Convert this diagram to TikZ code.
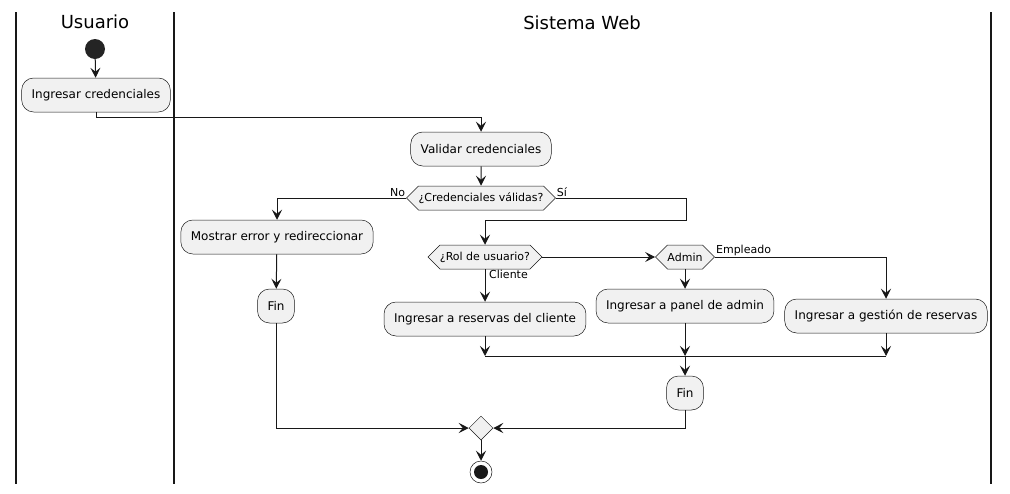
\documentclass[tikz,border=0pt]{standalone}
\usepackage{fontspec}
\setmainfont{DejaVu Sans}
\usetikzlibrary{arrows.meta,shapes.symbols,shapes.geometric}
\definecolor{actfill}{HTML}{F1F1F1}
\definecolor{linecol}{HTML}{181818}
\tikzset{
  action/.style = {draw=linecol, line width=0.5pt, fill=actfill, rounded corners=12pt,
    minimum height=34pt, inner xsep=10pt, font=\fontsize{12}{14}\selectfont},
  choice/.style = {draw=linecol, line width=0.5pt, fill=actfill, signal, signal to=east and west,
    signal pointer angle=90, minimum height=24pt, inner xsep=0pt, inner ysep=0pt, font=\fontsize{11}{13}\selectfont},
  merge/.style = {draw=linecol, line width=0.5pt, fill=actfill, diamond, minimum width=24pt, minimum height=24pt, inner sep=0pt},
  startnode/.style = {circle, fill=linecol!95!white, minimum size=20pt, inner sep=0pt},
  stopnode/.style = {circle, draw=linecol, line width=0.5pt, fill=white, minimum size=22pt, inner sep=0pt,
    path picture={\fill[linecol] (path picture bounding box.center) circle (7pt);}},
  flow/.style = {draw=linecol, line width=1pt, -{Stealth[length=10pt,width=10pt,inset=4pt]}},
  link/.style = {draw=linecol, line width=1pt},
  guard/.style = {font=\fontsize{11}{13}\selectfont, inner sep=1pt},
  lane/.style = {draw=linecol, line width=1.5pt},
  lanetitle/.style = {font=\fontsize{18}{21}\selectfont},
}
\begin{document}
\begin{tikzpicture}[x=1pt,y=-1pt]
  \useasboundingbox (0,0) rectangle (1010,493);
  % carriles
  \draw[lane] (16,12) -- (16,484);
  \draw[lane] (174,12) -- (174,484);
  \draw[lane] (991,12) -- (991,484);
  \node[lanetitle] (usuario) at (95,22) {Usuario};
  \node[lanetitle] (sistema) at (582,23) {Sistema Web};

  % nodos
  \node[startnode] (inicio) at (95,49) {};
  \node[action] (ingresar) at (96,95) {Ingresar credenciales};
  \node[action] (validar) at (481,149) {Validar credenciales};
  \node[choice] (cred) at (481,198) {¿Credenciales válidas?};
  \node[action] (mostrar) at (277,237) {Mostrar error y redireccionar};
  \node[action] (fin1) at (276,306) {Fin};
  \node[choice] (rol) at (485,257) {¿Rol de usuario?};
  \node[choice] (admin) at (685,257) {Admin};
  \node[action] (cliente) at (485,319) {Ingresar a reservas del cliente};
  \node[action] (panel) at (685,306) {Ingresar a panel de admin};
  \node[action] (gestion) at (886,316) {Ingresar a gestión de reservas};
  \node[action] (fin2) at (685,393) {Fin};
  \node[merge] (union) at (481,428) {};
  \node[stopnode] (final) at (481,472) {};
  \coordinate (sibend) at (686,220);
  \coordinate (joinL) at (485,356);
  \coordinate (joinR) at (886,356);

  % flujos
  \path[flow] (inicio) -- (ingresar);
  \path[flow] (ingresar.south) -- ++(0,5) -| (validar.north);
  \path[flow] (validar) -- (cred);
  \path[flow] (cred.west) -| (mostrar.north);
  \node[guard, anchor=south east] at (cred.west) {No};
  \path[flow] (cred.east) -| (sibend) -| (rol.north);
  \node[guard, anchor=south west] at (cred.east) {Sí};
  \path[flow] (mostrar) -- (fin1);
  \path[flow] (fin1.south) |- (union.west);
  \path[flow] (rol.south) -- (cliente.north);
  \node[guard, anchor=north west] at ([xshift=3pt]rol.south) {Cliente};
  \path[flow] (rol.east) -- (admin.west);
  \path[flow] (admin.south) -- (panel.north);
  \path[flow] (admin.east) -| (gestion.north);
  \node[guard, anchor=south west] at (admin.east) {Empleado};
  \path[flow] (cliente.south) -- (cliente.south |- joinL);
  \path[flow] (panel.south) -- (panel.south |- joinL);
  \path[flow] (gestion.south) -- (gestion.south |- joinR);
  \path[link] (joinL) -- (joinR);
  \path[flow] (panel.south |- joinL) -- (fin2.north);
  \path[flow] (fin2.south) |- (union.east);
  \path[flow] (union) -- (final);
\end{tikzpicture}
\end{document}
